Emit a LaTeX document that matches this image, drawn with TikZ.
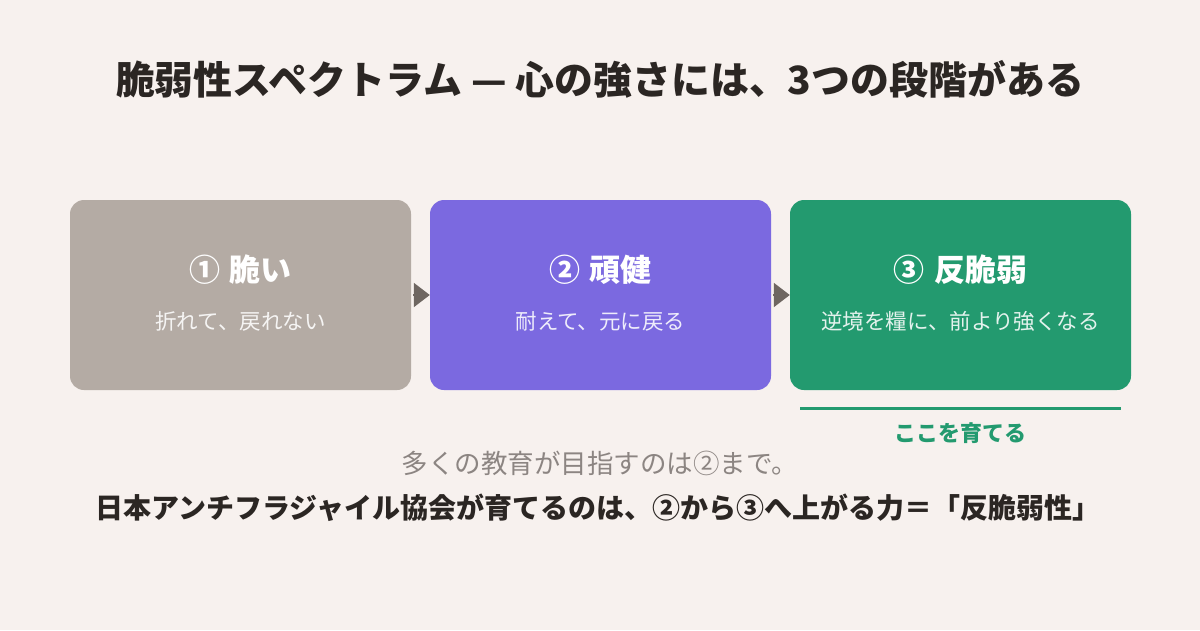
\documentclass[tikz,border=0pt]{standalone}
\usepackage{fontspec}
\setmainfont{Noto Sans CJK JP}
\usepackage{xcolor}
\usetikzlibrary{arrows.meta}

\definecolor{bgcream}{HTML}{F7F1EE}
\definecolor{brittle}{HTML}{B4ABA4}
\definecolor{robust}{HTML}{7B69E0}
\definecolor{antifrag}{HTML}{239A6F}
\definecolor{arrowgray}{HTML}{6E6661}
\definecolor{softgray}{HTML}{8C8582}
\definecolor{inkdark}{HTML}{2B2623}

\tikzset{
  stagebox/.style={rounded corners=14pt, minimum width=341pt, minimum height=190pt, inner sep=0pt},
  stagehead/.style={text=white, font=\fontsize{31}{36}\selectfont\bfseries},
  stagesub/.style={text=white, text opacity=0.88, font=\fontsize{21.5}{25}\selectfont},
  flow/.style={arrowgray, line width=2pt, shorten <=2pt, -{Triangle[length=16pt,width=24pt]}}
}

\begin{document}
\begin{tikzpicture}[x=1pt, y=-1pt]
      \fill[bgcream] (0,0) rectangle (1200,630);
      \useasboundingbox (0,0) rectangle (1200,630);

      \node[text=inkdark, font=\fontsize{38.9}{44}\selectfont\bfseries] (title) at (600,79) {脆弱性スペクトラム — 心の強さには、3つの段階がある};

      \node[stagebox, fill=brittle] (box1) at (240.5,295) {};
      \node[stagebox, fill=robust] (box2) at (600.5,295) {};
      \node[stagebox, fill=antifrag] (box3) at (960.5,295) {};

      \node[stagehead] (head1) at (240.5,270) {①\hspace{0.3em}脆い};
      \node[stagehead] (head2) at (600.5,270) {②\hspace{0.3em}頑健};
      \node[stagehead] (head3) at (960.5,270) {③\hspace{0.3em}反脆弱};

      \node[stagesub] (sub1) at (240.5,321) {折れて、戻れない};
      \node[stagesub] (sub2) at (600.5,321) {耐えて、元に戻る};
      \node[stagesub] (sub3) at (960.5,321) {逆境を糧に、前より強くなる};

      \draw[flow] (box1) -- (box2);
      \draw[flow] (box2) -- (box3);

      \coordinate (lineL) at (800,408);
      \coordinate (lineR) at (1121,408);
      \draw[antifrag, line width=3pt] (lineL) -- (lineR);
      \node[text=antifrag, font=\fontsize{22}{26}\selectfont\bfseries] (grow) at (960.5,433) {ここを育てる};

      \node[text=softgray, font=\fontsize{26.5}{30}\selectfont] (note) at (600,463) {多くの教育が目指すのは②まで。};
      \node[text=inkdark, font=\fontsize{28}{33}\selectfont\bfseries] (claim) at (598,508) {日本アンチフラジャイル協会が育てるのは、②から③へ上がる力＝「反脆弱性」};
\end{tikzpicture}
\end{document}
